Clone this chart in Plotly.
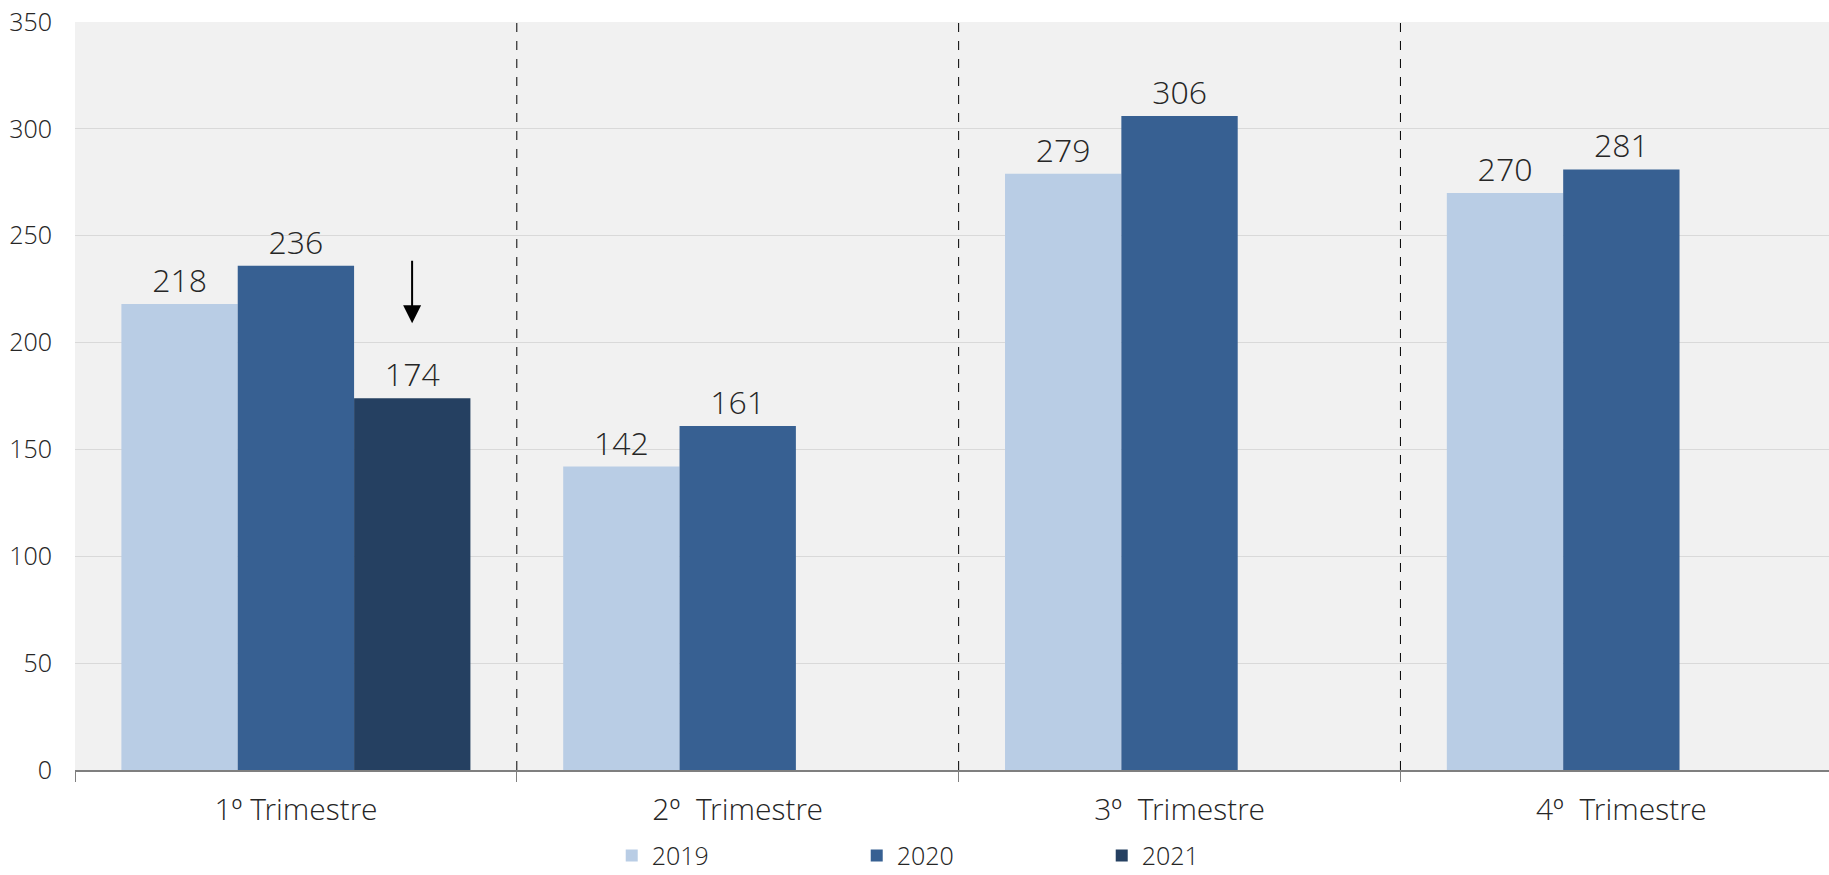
import plotly.graph_objects as go

categories = ["1º Trimestre", "2º  Trimestre", "3º  Trimestre", "4º  Trimestre"]
years = ["2019", "2020", "2021"]
values_2019 = [218, 142, 279, 270]
values_2020 = [236, 161, 306, 281]
values_2021 = [174, None, None, None]
colors = ["#B9CDE5", "#376092", "#254061"]

series = [values_2019, values_2020, values_2021]
FONT = "Open Sans Light, Open Sans"
TXT = "#262626"

fig = go.Figure()
for name, vals, col in zip(years, series, colors):
    fig.add_trace(go.Bar(
        x=categories, y=vals, name=name, marker_color=col, marker_line_width=0,
        text=[("" if v is None else str(v)) for v in vals],
        textposition="outside", cliponaxis=False,
        textfont=dict(family=FONT, size=32, color=TXT, weight=300),
    ))

# separators between quarters
for i in range(len(categories) - 1):
    fig.add_shape(type="line", xref="x", yref="paper", x0=i + 0.5, x1=i + 0.5, y0=0, y1=1,
                  line=dict(color="#000000", width=1, dash="dash"), layer="above")

# arrow above the 2021 bar
fig.add_annotation(x=0.263, y=209, ax=0.263, ay=239, xref="x", yref="y", axref="x", ayref="y",
                   text="", showarrow=True, arrowhead=2, arrowsize=1.8, arrowwidth=2, arrowcolor="#000000")

fig.update_layout(
    width=1829, height=875,
    margin=dict(l=75, r=0, t=22, b=105, autoexpand=False),
    paper_bgcolor="#FFFFFF", plot_bgcolor="#F1F1F1",
    barmode="group", bargap=0.21, bargroupgap=0,
    font=dict(family=FONT, color=TXT, weight=300),
    showlegend=True,
    legend=dict(orientation="h", x=0.306, xanchor="left", xref="paper",
                y=0.022, yanchor="middle", yref="container",
                font=dict(size=25, family=FONT, color=TXT, weight=300),
                entrywidth=200, entrywidthmode="pixels", traceorder="normal",
                itemwidth=30, bgcolor="rgba(0,0,0,0)"),
)
fig.update_xaxes(
    range=[-0.5, 3.47], showgrid=False, showline=True, linecolor="#7F7F7F", linewidth=1.5,
    ticks="outside", tickson="boundaries", ticklen=10, tickcolor="#7F7F7F",
    tickfont=dict(size=30, family=FONT, color=TXT, weight=300), ticklabelstandoff=12,
)
fig.update_yaxes(
    range=[0, 350], dtick=50, showgrid=True, gridcolor="#D9D9D9", gridwidth=1,
    zeroline=False, showline=False, ticks="",
    tickfont=dict(size=25, family=FONT, color=TXT, weight=300), ticklabelstandoff=22,
)

fig.write_html("out.html")
